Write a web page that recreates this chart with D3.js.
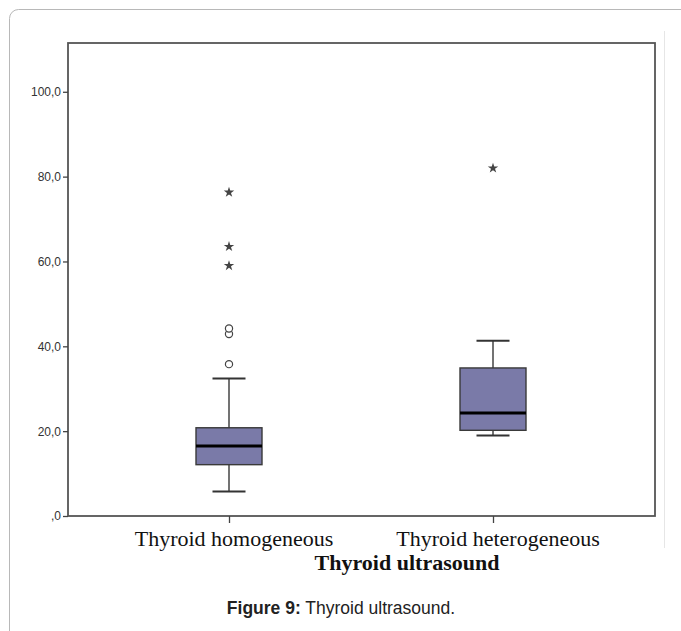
<!DOCTYPE html>
<html>
<head>
<meta charset="utf-8">
<script src="https://cdn.jsdelivr.net/npm/d3@7"></script>
<style>
  body { margin: 0; background: #fff; }
  svg { display: block; }
</style>
</head>
<body>
<div id="chart"></div>
<script>
// data
var categories = ["Thyroid homogeneous", "Thyroid heterogeneous"];
var whiskerLow  = [5.8, 19.0];
var q1          = [12.1, 20.2];
var median      = [16.5, 24.3];
var q3          = [20.8, 34.9];
var whiskerHigh = [32.4, 41.3];
// outliers: circles = mild, stars = extreme
var mildOut    = [[35.8, 42.9, 44.2], []];
var extremeOut = [[59.0, 63.5, 76.3], [82.0]];
var yTicks = [0, 20, 40, 60, 80, 100];

var W = 681, H = 631;
// plot frame edges (window.top is read-only, so other names)
var pLeft = 68, pTop = 43, pRight = 655, pBottom = 516;

var svg = d3.select("#chart").append("svg")
  .attr("width", W)
  .attr("height", H)

// outer page frame (rounded box)
svg.append("rect")
  .attr("x", 9.5).attr("y", 9.5)
  .attr("width", W + 20).attr("height", H + 20)
  .attr("rx", 9)
  .attr("fill", "none")
  .attr("stroke", "#b8b8b8")

// faint edge of the pasted figure
svg.append("line")
  .attr("x1", 664.5).attr("x2", 664.5)
  .attr("y1", 31).attr("y2", 548)
  .attr("stroke", "#e6e6e6")

var y = d3.scaleLinear().domain([0, 111.5]).range([pBottom, pTop]);
var x = d3.scalePoint().domain(categories).range([229, 493]);

// plot frame
svg.append("rect")
  .attr("x", pLeft).attr("y", pTop)
  .attr("width", pRight - pLeft).attr("height", pBottom - pTop)
  .attr("fill", "none")
  .attr("stroke", "#555")
  .attr("stroke-width", 1.8)

// y axis
var yAxis = d3.axisLeft(y)
  .tickValues(yTicks)
  .tickSize(5)
  .tickFormat(function(d){ return d == 0 ? ",0" : d3.format(".1f")(d).replace(".", ","); })

var ga = svg.append("g").attr("transform", "translate(" + pLeft + ",0)").call(yAxis)
ga.select(".domain").remove()
ga.selectAll("line").attr("stroke", "#444").attr("stroke-width", 1.3)
ga.selectAll("text")
  .attr("font-family", "Arial, 'Liberation Sans', sans-serif")
  .attr("font-size", 12)
  .attr("fill", "#333")
  .attr("x", -7)

// x axis
var xAxis = d3.axisBottom(x).tickSize(7).tickFormat("")
var gx = svg.append("g").attr("transform", "translate(0," + pBottom + ")").call(xAxis)
gx.select(".domain").remove()
gx.selectAll("line").attr("stroke", "#444").attr("stroke-width", 1.3)

var serif = "'Times New Roman', 'Liberation Serif', serif";
var labelShift = [5, 5];
svg.selectAll("text.cat")
  .data(categories)
  .enter().append("text")
  .attr("class", "cat")
  .attr("x", function(d, i){ return x(d) + labelShift[i]; })
  .attr("y", 546)
  .attr("text-anchor", "middle")
  .attr("font-family", serif)
  .attr("font-size", 22)
  .attr("fill", "#111")
  .text(function(d){ return d; })

svg.append("text")
  .attr("x", 407).attr("y", 570)
  .attr("text-anchor", "middle")
  .attr("font-family", serif)
  .attr("font-size", 22)
  .attr("font-weight", "bold")
  .attr("fill", "#111")
  .text("Thyroid ultrasound")

var cap = svg.append("text")
  .attr("x", 341).attr("y", 614)
  .attr("text-anchor", "middle")
  .attr("font-family", "Arial, 'Liberation Sans', sans-serif")
  .attr("font-size", 17.5)
  .attr("fill", "#222")
cap.append("tspan").attr("font-weight", "bold").text("Figure 9:")
cap.append("tspan").text(" Thyroid ultrasound.")

// boxes
var boxW = 66, capW = 33;
var boxes = svg.append("g").selectAll("g")
  .data(categories)
  .enter().append("g")

boxes.append("line")
  .attr("x1", function(d){ return x(d); })
  .attr("x2", function(d){ return x(d); })
  .attr("y1", function(d, i){ return y(whiskerLow[i]); })
  .attr("y2", function(d, i){ return y(whiskerHigh[i]); })
  .attr("stroke", "#444").attr("stroke-width", 1.5)

boxes.each(function(d, i){
  var g = d3.select(this);
  [whiskerLow[i], whiskerHigh[i]].forEach(function(v){
    g.append("line")
      .attr("x1", x(d) - capW / 2).attr("x2", x(d) + capW / 2)
      .attr("y1", y(v)).attr("y2", y(v))
      .attr("stroke", "#333").attr("stroke-width", 2)
  })
})

boxes.append("rect")
  .attr("x", function(d){ return x(d) - boxW / 2; })
  .attr("width", boxW)
  .attr("y", function(d, i){ return y(q3[i]); })
  .attr("height", function(d, i){ return y(q1[i]) - y(q3[i]); })
  .attr("fill", "#7a7aa8")
  .attr("stroke", "#3a3a3a")
  .attr("stroke-width", 1.4)

boxes.append("line")
  .attr("x1", function(d){ return x(d) - boxW / 2; })
  .attr("x2", function(d){ return x(d) + boxW / 2; })
  .attr("y1", function(d, i){ return y(median[i]); })
  .attr("y2", function(d, i){ return y(median[i]); })
  .attr("stroke", "#000").attr("stroke-width", 3)

// outliers
boxes.each(function(d, i){
  var g = d3.select(this);
  mildOut[i].forEach(function(v){
    g.append("circle")
      .attr("cx", x(d)).attr("cy", y(v)).attr("r", 3.6)
      .attr("fill", "#fff").attr("stroke", "#444").attr("stroke-width", 1.2)
  })
  extremeOut[i].forEach(function(v){
    g.append("path")
      .attr("d", d3.symbol().type(d3.symbolStar).size(34)())
      .attr("transform", "translate(" + x(d) + "," + y(v) + ")")
      .attr("fill", "#444")
  })
})
</script>
</body>
</html>
